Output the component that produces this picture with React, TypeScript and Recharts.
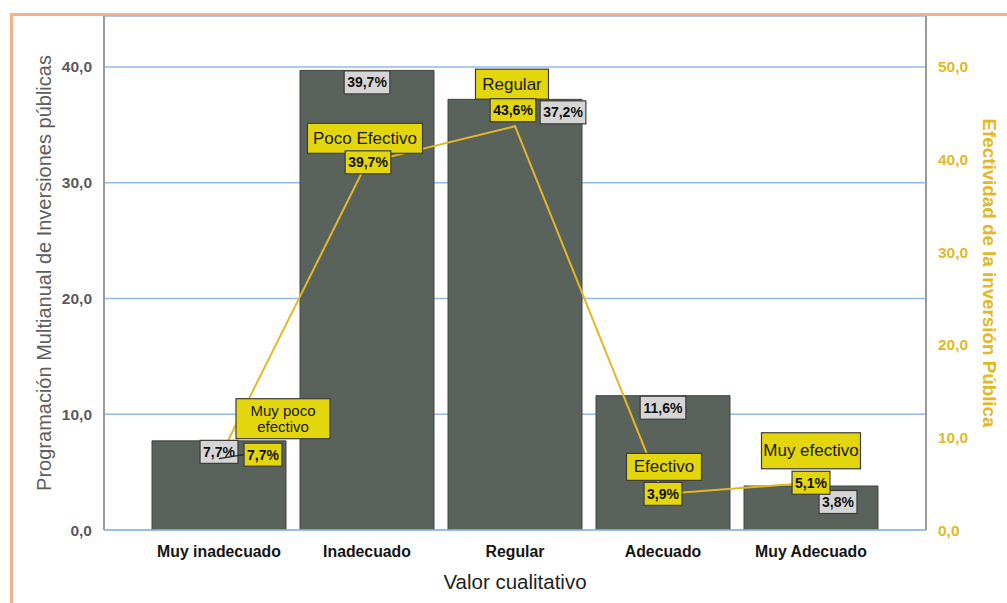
import React from 'react';
import {
  ComposedChart,
  Bar,
  Line,
  XAxis,
  YAxis,
  CartesianGrid,
  Label,
} from 'recharts';

// Categories on the horizontal axis
const CATEGORIES = ['Muy inadecuado', 'Inadecuado', 'Regular', 'Adecuado', 'Muy Adecuado'];
// Bars: Programación Multianual de Inversiones públicas (%)
const PROGRAMACION = [7.7, 39.7, 37.2, 11.6, 3.8];
// Line: Efectividad de la inversión pública (%)
const EFECTIVIDAD = [7.7, 39.7, 43.6, 3.9, 5.1];
// Level name attached to each point of the line
const EFECTIVIDAD_NIVEL = ['Muy poco efectivo', 'Poco Efectivo', 'Regular', 'Efectivo', 'Muy efectivo'];
// Axis ticks
const LEFT_TICKS = [0, 10, 20, 30, 40];
const RIGHT_TICKS = [0, 10, 20, 30, 40, 50];

const data = CATEGORIES.map((c, i) => ({
  categoria: c,
  programacion: PROGRAMACION[i],
  efectividad: EFECTIVIDAD[i],
  nivel: EFECTIVIDAD_NIVEL[i],
}));

// Label placement (relative to the mark the label belongs to)
const BAR_LABEL_OFFSET = [
  { dx: 0, dy: 11 },
  { dx: 0, dy: 12 },
  { dx: 48, dy: 13 },
  { dx: 0, dy: 12 },
  { dx: 27, dy: 16 },
];
const LINE_VALUE_OFFSET = [
  { dx: 44, dy: -4, leader: true },
  { dx: 1, dy: 0, leader: false },
  { dx: -2, dy: -16, leader: false },
  { dx: 0, dy: 0, leader: false },
  { dx: 0, dy: 0, leader: false },
];
const LINE_NAME_BOX = [
  { dx: 64, dy: -40, w: 94, h: 40, fs: 15, wrap: true },
  { dx: -2, dy: -24, w: 115, h: 30, fs: 17, wrap: false },
  { dx: -3, dy: -42, w: 73, h: 30, fs: 17, wrap: false },
  { dx: 1, dy: -27, w: 75, h: 27, fs: 17, wrap: false },
  { dx: 0, dy: -32, w: 99, h: 36, fs: 17, wrap: false },
];

const FONT = '"Liberation Sans", Arial, sans-serif';
const YELLOW = '#e4d60c';
const GOLD = '#e2b925';
const GREY_BOX = '#d5d5d5';
const BOX_EDGE = '#3c3c3c';
const BAR_FILL = '#5a625c';
const BAR_EDGE = '#3f4541';
const GRID = '#93b9ea';
const VALUE_FS = 14;

const fmtPct = (v: number) => v.toFixed(1).replace('.', ',') + '%';
const fmtTick = (v: number) => v.toFixed(1).replace('.', ',');

// rough width of the bold value text
const valueTextWidth = (s: string) => {
  let w = 0;
  for (const ch of s) {
    if (ch === ',') w += 0.278;
    else if (ch === '%') w += 0.889;
    else w += 0.556;
  }
  return w * VALUE_FS;
};

const ValueBox = ({ cx, cy, text, fill }: { cx: number; cy: number; text: string; fill: string }) => {
  const w = valueTextWidth(text) + 6;
  const h = 23;
  return (
    <g>
      <rect x={cx - w / 2} y={cy - h / 2} width={w} height={h} fill={fill} stroke={BOX_EDGE} strokeWidth={1.2} />
      <text
        x={cx}
        y={cy}
        textAnchor="middle"
        dominantBaseline="central"
        fontFamily={FONT}
        fontWeight="bold"
        fontSize={VALUE_FS}
        fill="#111"
      >
        {text}
      </text>
    </g>
  );
};

const renderBarLabel = (props: any) => {
  const { x, y, width, index, value } = props;
  const off = BAR_LABEL_OFFSET[index];
  const cx = Number(x) + Number(width) / 2 + off.dx;
  const cy = Number(y) + off.dy;
  return <ValueBox key={`bl-${index}`} cx={cx} cy={cy} text={fmtPct(Number(value))} fill={GREY_BOX} />;
};

const renderLineLabel = (props: any) => {
  const { x, y, index, value } = props;
  const px = Number(x);
  const py = Number(y);
  const off = LINE_VALUE_OFFSET[index];
  const nb = LINE_NAME_BOX[index];
  const text = fmtPct(Number(value));
  const vw = valueTextWidth(text) + 6;
  const vx = px + off.dx;
  const vy = py + off.dy;
  const name = EFECTIVIDAD_NIVEL[index];
  let lines = [name];
  if (nb.wrap) {
    const cut = name.lastIndexOf(' ');
    lines = [name.slice(0, cut), name.slice(cut + 1)];
  }
  const nx = px + nb.dx;
  const ny = py + nb.dy;
  const lh = nb.fs * 1.05;
  return (
    <g key={`ll-${index}`}>
      <rect
        x={nx - nb.w / 2}
        y={ny - nb.h / 2}
        width={nb.w}
        height={nb.h}
        fill={YELLOW}
        stroke={BOX_EDGE}
        strokeWidth={1.2}
      />
      {lines.map((ln, k) => (
        <text
          key={k}
          x={nx}
          y={ny + (k - (lines.length - 1) / 2) * lh}
          textAnchor="middle"
          dominantBaseline="central"
          fontFamily={FONT}
          fontSize={nb.fs}
          fill="#1a1a1a"
        >
          {ln}
        </text>
      ))}
      {off.leader && (
        <line x1={px} y1={py} x2={vx - vw / 2} y2={vy} stroke="#222" strokeWidth={1.2} />
      )}
      <ValueBox cx={vx} cy={vy} text={text} fill={YELLOW} />
    </g>
  );
};

const LeftTitle = (props: any) => {
  const vb = props.viewBox || { x: 0, y: 16, width: 104, height: 514 };
  const cx = 44;
  const cy = vb.y + vb.height / 2;
  return (
    <text
      x={cx}
      y={cy}
      transform={`rotate(-90, ${cx}, ${cy})`}
      textAnchor="middle"
      dominantBaseline="central"
      fontFamily={FONT}
      fontSize={20}
      fill="#5e5e5e"
    >
      Programación Multianual de Inversiones públicas
    </text>
  );
};

const RightTitle = (props: any) => {
  const vb = props.viewBox || { x: 926, y: 16, width: 81, height: 514 };
  const cx = 989;
  const cy = vb.y + vb.height / 2;
  return (
    <text
      x={cx}
      y={cy}
      transform={`rotate(90, ${cx}, ${cy})`}
      textAnchor="middle"
      dominantBaseline="central"
      fontFamily={FONT}
      fontWeight="bold"
      fontSize={18.8}
      fill={GOLD}
    >
      Efectividad de la inversión Pública
    </text>
  );
};

const BottomTitle = (props: any) => {
  const vb = props.viewBox || { x: 104, y: 530, width: 822, height: 73 };
  const cx = vb.x + vb.width / 2;
  return (
    <text
      x={cx}
      y={581}
      textAnchor="middle"
      dominantBaseline="central"
      fontFamily={FONT}
      fontSize={20.5}
      fill="#1e1e1e"
    >
      Valor cualitativo
    </text>
  );
};

export default function App() {
  return (
    <div style={{ position: 'absolute', left: 0, top: 0, width: 1007, height: 603, background: '#fff', overflow: 'hidden' }}>
      <div
        style={{
          position: 'absolute',
          left: 10,
          top: 13,
          width: 1100,
          height: 700,
          borderTop: '3px solid #f5b28a',
          borderLeft: '3px solid #f5b28a',
          boxSizing: 'border-box',
        }}
      />
      <div style={{ position: 'absolute', left: 0, top: 0 }}>
        <ComposedChart
          width={1007}
          height={603}
          data={data}
          margin={{ top: 16, right: 0, bottom: 0, left: 0 }}
        >
          <CartesianGrid
            yAxisId="left"
            vertical={false}
            stroke={GRID}
            strokeWidth={1.5}
          />
          <XAxis
            dataKey="categoria"
            height={73}
            padding={{ left: 41, right: 41 }}
            tickLine={false}
            axisLine={{ stroke: GRID, strokeWidth: 1.5 }}
            tickMargin={10}
            interval={0}
            tick={{ fill: '#141414', fontSize: 15.8, fontWeight: 'bold', fontFamily: FONT }}
          >
            <Label content={<BottomTitle />} />
          </XAxis>
          <YAxis
            yAxisId="left"
            orientation="left"
            width={104}
            domain={[0, 44.4]}
            ticks={LEFT_TICKS}
            allowDataOverflow
            tickFormatter={fmtTick}
            tickLine={false}
            tickMargin={6}
            axisLine={{ stroke: '#9a9a9a', strokeWidth: 2 }}
            tick={{ fill: '#5a5a5a', fontSize: 15.5, fontWeight: 'bold', fontFamily: FONT }}
          >
            <Label content={<LeftTitle />} />
          </YAxis>
          <YAxis
            yAxisId="right"
            orientation="right"
            width={81}
            domain={[0, 55.5]}
            ticks={RIGHT_TICKS}
            allowDataOverflow
            tickFormatter={fmtTick}
            tickLine={false}
            tickMargin={6}
            axisLine={{ stroke: '#9a9a9a', strokeWidth: 2 }}
            tick={{ fill: GOLD, fontSize: 15.5, fontWeight: 'bold', fontFamily: FONT }}
          >
            <Label content={<RightTitle />} />
          </YAxis>
          <Bar
            yAxisId="left"
            dataKey="programacion"
            barSize={134}
            fill={BAR_FILL}
            stroke={BAR_EDGE}
            strokeWidth={1}
            isAnimationActive={false}
            label={renderBarLabel}
          />
          <Line
            yAxisId="right"
            dataKey="efectividad"
            type="linear"
            stroke={GOLD}
            strokeWidth={2}
            dot={false}
            activeDot={false}
            isAnimationActive={false}
            label={renderLineLabel}
          />
        </ComposedChart>
      </div>
    </div>
  );
}
